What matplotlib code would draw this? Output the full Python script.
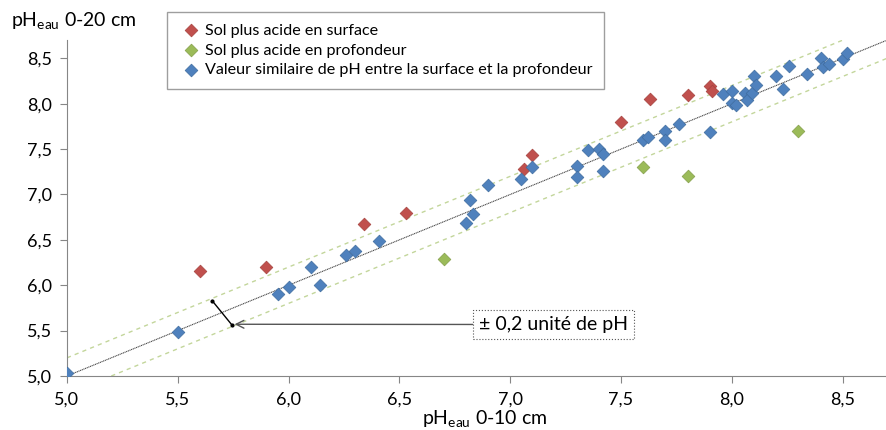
import matplotlib.pyplot as plt

plt.rcParams['font.family'] = ['Lato', 'DejaVu Sans']
plt.rcParams['mathtext.fontset'] = 'custom'
plt.rcParams['mathtext.rm'] = 'Lato'
plt.rcParams['mathtext.it'] = 'Lato:italic'

# pH 0-10 cm (x) and pH 0-20 cm (y) for each group
red_x = [5.6, 5.9, 6.34, 6.53, 7.06, 7.1, 7.5, 7.63, 7.8, 7.9, 7.91]
red_y = [6.16, 6.2, 6.68, 6.8, 7.28, 7.43, 7.8, 8.05, 8.1, 8.2, 8.14]

green_x = [6.7, 7.6, 7.8, 8.3]
green_y = [6.29, 7.3, 7.2, 7.7]

blue_x = [5.0, 5.5, 5.95, 6.0, 6.1, 6.14, 6.26, 6.3, 6.41, 6.8, 6.83, 6.82,
          6.9, 7.05, 7.1, 7.3, 7.3, 7.35, 7.4, 7.42, 7.42, 7.6, 7.62, 7.7,
          7.7, 7.76, 7.9, 7.96, 8.0, 8.0, 8.02, 8.06, 8.07, 8.09, 8.1, 8.11,
          8.2, 8.23, 8.26, 8.34, 8.4, 8.41, 8.44, 8.5, 8.52]
blue_y = [5.03, 5.49, 5.9, 5.98, 6.2, 6.0, 6.33, 6.38, 6.49, 6.69, 6.79, 6.94,
          7.1, 7.17, 7.3, 7.31, 7.19, 7.49, 7.5, 7.45, 7.26, 7.6, 7.63, 7.7,
          7.6, 7.78, 7.69, 8.11, 8.14, 8.01, 7.99, 8.12, 8.04, 8.12, 8.31, 8.21,
          8.3, 8.16, 8.41, 8.33, 8.5, 8.4, 8.44, 8.49, 8.56]

labels = ['Sol plus acide en surface',
          'Sol plus acide en profondeur',
          'Valeur similaire de pH entre la surface et la profondeur']

# reference lines: 1:1 and +/- 0.2
line_x = [5.0, 8.7]
upper_x = [5.0, 8.5]
lower_x = [5.2, 8.7]
tol = 0.2

ticks = [5.0, 5.5, 6.0, 6.5, 7.0, 7.5, 8.0, 8.5]
tick_labels = ['5,0', '5,5', '6,0', '6,5', '7,0', '7,5', '8,0', '8,5']

fig = plt.figure(figsize=(8.87, 4.30), dpi=100)
ax = fig.add_axes([0.0755, 0.1256, 0.9245, 0.781])

ax.plot(line_x, line_x, color='#444444', lw=0.8, ls=(0, (1, 0.6)), zorder=1)
ax.plot(upper_x, [v + tol for v in upper_x], color='#c3d69b', lw=1.0, ls=(0, (3, 3)), zorder=1)
ax.plot(lower_x, [v - tol for v in lower_x], color='#c3d69b', lw=1.0, ls=(0, (3, 3)), zorder=1)

ax.scatter(red_x, red_y, marker='D', s=42, color='#c0504d', edgecolor='#a6413e', lw=0.5, label=labels[0], zorder=3)
ax.scatter(green_x, green_y, marker='D', s=42, color='#9bbb59', edgecolor='#849f4a', lw=0.5, label=labels[1], zorder=3)
ax.scatter(blue_x, blue_y, marker='D', s=42, color='#4f81bd', edgecolor='#3f6c9f', lw=0.5, label=labels[2], zorder=3)

# +/- 0.2 marker and callout
ax.plot([5.655, 5.745], [5.83, 5.56], color='black', lw=1.0, marker='o', ms=2, zorder=2)
ax.annotate('± 0,2 unité de pH', xy=(5.75, 5.57), xytext=(7.195, 5.567),
            fontsize=14, ha='center', va='center',
            bbox=dict(boxstyle='square,pad=0.3', fc='white', ec='#555555', ls=':', lw=0.8),
            arrowprops=dict(arrowstyle='->', color='#555555', lw=1.0, shrinkA=0, shrinkB=1))

ax.set_xlim(5.0, 8.7)
ax.set_ylim(5.0, 8.7)
ax.set_xticks(ticks)
ax.set_xticklabels(tick_labels)
ax.set_yticks(ticks)
ax.set_yticklabels(tick_labels)
ax.tick_params(labelsize=13, color='#868686', length=5, width=0.8, pad=6)
for side in ['top', 'right']:
    ax.spines[side].set_visible(False)
for side in ['left', 'bottom']:
    ax.spines[side].set_color('#868686')
    ax.spines[side].set_linewidth(0.8)

fig.text(0.546, 0.003, r'pH$_{\mathrm{eau}}$ 0-10 cm', fontsize=14, ha='center', va='bottom')
fig.text(0.012, 0.953, r'pH$_{\mathrm{eau}}$ 0-20 cm', fontsize=14, ha='left', va='center')

leg = fig.legend(loc='upper left', bbox_to_anchor=(0.188, 0.972), fontsize=11.6,
                 frameon=True, fancybox=False, borderpad=0.7, handletextpad=0.1,
                 labelspacing=0.35, handlelength=1.6, borderaxespad=0)
leg.get_frame().set_edgecolor('#868686')
leg.get_frame().set_linewidth(1.0)

fig.savefig('out.png', dpi=100)
